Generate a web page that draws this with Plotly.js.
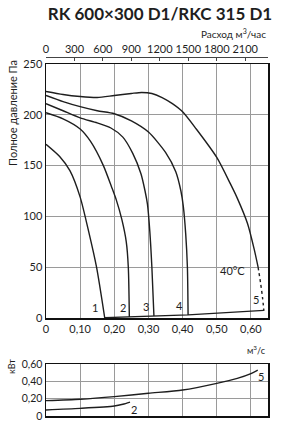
<!DOCTYPE html>
<html><head><meta charset="utf-8">
<script src="https://cdn.plot.ly/plotly-3.0.1.min.js"></script>
<style>html,body{margin:0;padding:0;background:#fff}#chart{width:286px;height:423px}</style>
</head><body><div id="chart"></div><script>
// Pressure curves (q in m3/s, p in Pa)
const q1=[0,0.04,0.07,0.10,0.125,0.148,0.172];
const p1=[171,159,145,119,85,50,0];
const q2=[0,0.05,0.10,0.13,0.168,0.192,0.206,0.222,0.235,0.241,0.244];
const p2=[202,196,186,174,150,129,116,97,75,50,1];
const q3=[0,0.05,0.10,0.15,0.19,0.225,0.254,0.278,0.290,0.297,0.304,0.310,0.316];
const p3=[211,204,197,192,187,178,162,142,125,112,85,50,2];
const q4=[0,0.05,0.10,0.15,0.20,0.25,0.30,0.35,0.38,0.395,0.402,0.409,0.414,0.416];
const p4=[219,213,208,204,201,194,183,163,144,125,110,83,50,3];
const q5=[0,0.05,0.10,0.15,0.20,0.25,0.28,0.31,0.34,0.37,0.40,0.44,0.50,0.54,0.56,0.59,0.61,0.621];
const p5=[223,220,218,217,219,221,222,221,217,211,203,186,158,132,118,93,67,50];
const q5dot=[0.621,0.628,0.634,0.638];
const p5dot=[50,35,20,7];
const qBase=[0.172,0.244,0.316,0.416,0.638];
const pBase=[0.3,0.9,1.7,3.0,7.5];
// Power curves (kW)
const kq5=[0,0.10,0.20,0.30,0.40,0.50,0.56,0.60,0.62];
const kw5=[0.177,0.193,0.223,0.262,0.30,0.377,0.435,0.49,0.53];
const kq2=[0,0.10,0.20,0.225,0.246];
const kw2=[0.07,0.088,0.115,0.135,0.16];
// Tick labels
const xTickVals=[0,0.1,0.2,0.3,0.4,0.5,0.6];
const xTickText=['0','0,10','0,20','0,30','0,40','0,50','0,60'];
const topTickVals=[0,300,600,900,1200,1500,1800,2100];
const topTickText=['0','300','600','900','1200','1500','1800','2100'];
const pTickVals=[0,50,100,150,200,250];
const pTickText=['0','50','100','150','200','250'];
const kTickVals=[0,0.2,0.4,0.6];
const kTickText=['0','0,20','0,40','0,60'];
const curveLabels=['1','2','3','4','5'];
const curveLabelQ=[0.143,0.224,0.294,0.392,0.614];
const curveLabelP=[10,10,11,12,18];

const W=286,H=423;
const xd=[46/W,268/W];
const yMain=[(H-318)/H,(H-64)/H];
const yPow=[(H-416)/H,(H-364)/H];
const topPos=(H-57)/H;
const LC='#1e1e1e';
const F='Lato, "Open Sans", sans-serif';

function ln(x,y,xa,ya,dash){return {x:x,y:y,xaxis:xa,yaxis:ya,type:'scatter',mode:'lines',
  line:{color:LC,width:1.4,shape:'spline',smoothing:0.7,dash:dash||'solid'},hoverinfo:'skip',showlegend:false};}

const data=[
  ln(q1,p1,'x','y'),ln(q2,p2,'x','y'),ln(q3,p3,'x','y'),ln(q4,p4,'x','y'),ln(q5,p5,'x','y'),
  ln(q5dot,p5dot,'x','y','dot'),
  {x:qBase,y:pBase,xaxis:'x',yaxis:'y',type:'scatter',mode:'lines',line:{color:LC,width:1.3},hoverinfo:'skip',showlegend:false},
  ln(kq5,kw5,'x3','y2'),ln(kq2,kw2,'x3','y2'),
  {x:[0],y:[0],xaxis:'x2',yaxis:'y',type:'scatter',mode:'lines',hoverinfo:'skip',showlegend:false}
];

const annots=curveLabels.map((t,i)=>({text:t,x:curveLabelQ[i],y:curveLabelP[i],xref:'x',yref:'y',showarrow:false,font:{family:F,size:11,color:LC}}));
annots.push({text:'40°C',x:0.547,y:47,xref:'x',yref:'y',showarrow:false,font:{family:F,size:11,color:LC}});
annots.push({text:'2',x:0.257,y:0.08,xref:'x3',yref:'y2',showarrow:false,font:{family:F,size:11,color:LC}});
annots.push({text:'5',x:0.629,y:0.46,xref:'x3',yref:'y2',showarrow:false,font:{family:F,size:11,color:LC}});
annots.push({text:'Расход м<sup>3</sup>/час',x:268/W,y:(H-33)/H,xref:'paper',yref:'paper',xanchor:'right',yanchor:'middle',showarrow:false,font:{family:F,size:10,color:LC}});
annots.push({text:'м<sup>3</sup>/с',x:268/W,y:(H-350)/H,xref:'paper',yref:'paper',xanchor:'right',yanchor:'middle',showarrow:false,font:{family:F,size:9,color:LC}});
annots.push({text:'Полное давление Па',x:12/W,y:(H-113)/H,xref:'paper',yref:'paper',xanchor:'center',yanchor:'middle',textangle:-90,showarrow:false,font:{family:F,size:11,color:LC}});
annots.push({text:'кВт',x:11/W,y:(H-367)/H,xref:'paper',yref:'paper',xanchor:'center',yanchor:'middle',textangle:-90,showarrow:false,font:{family:F,size:9,color:LC}});

const gridC='#9a9a9a';
const layout={
  width:W,height:H,margin:{l:0,r:0,t:0,b:0},paper_bgcolor:'#fff',plot_bgcolor:'#fff',
  font:{family:F,size:11,color:LC},showlegend:false,
  title:{text:'<b>RK 600×300 D1/RKC 315 D1</b>',x:160/W,xanchor:'center',y:(H-14)/H,yanchor:'middle',font:{family:F,size:17,color:LC}},
  xaxis:{domain:xd,anchor:'y',range:[0,0.65],tickvals:xTickVals,ticktext:xTickText,showgrid:true,gridcolor:gridC,gridwidth:1,
    zeroline:false,showline:true,mirror:true,linecolor:'#111',linewidth:1.5,ticks:'',tickfont:{family:F,size:11,color:LC}},
  xaxis2:{overlaying:'x',side:'top',anchor:'free',position:topPos,range:[0,2340],tickvals:topTickVals,ticktext:topTickText,
    showgrid:false,zeroline:false,showline:true,linecolor:'#444',linewidth:1,ticks:'inside',ticklen:3,tickcolor:'#444',tickfont:{family:F,size:11,color:LC}},
  yaxis:{domain:yMain,anchor:'x',range:[0,250],tickvals:pTickVals,ticktext:pTickText,showgrid:true,gridcolor:gridC,gridwidth:1,
    zeroline:false,showline:true,mirror:true,linecolor:'#111',linewidth:1.5,ticks:'',tickfont:{family:F,size:11,color:LC}},
  xaxis3:{domain:xd,anchor:'y2',range:[0,0.65],tickvals:xTickVals,showticklabels:false,showgrid:true,gridcolor:gridC,gridwidth:1,
    zeroline:false,showline:true,mirror:true,linecolor:'#111',linewidth:1.5,ticks:''},
  yaxis2:{domain:yPow,anchor:'x3',range:[0,0.6],tickvals:kTickVals,ticktext:kTickText,showgrid:true,gridcolor:gridC,gridwidth:1,
    zeroline:false,showline:true,mirror:true,linecolor:'#111',linewidth:1.5,ticks:'',tickfont:{family:F,size:10.5,color:LC}},
  annotations:annots
};
Plotly.newPlot('chart',data,layout,{staticPlot:true,displayModeBar:false});
</script></body></html>
